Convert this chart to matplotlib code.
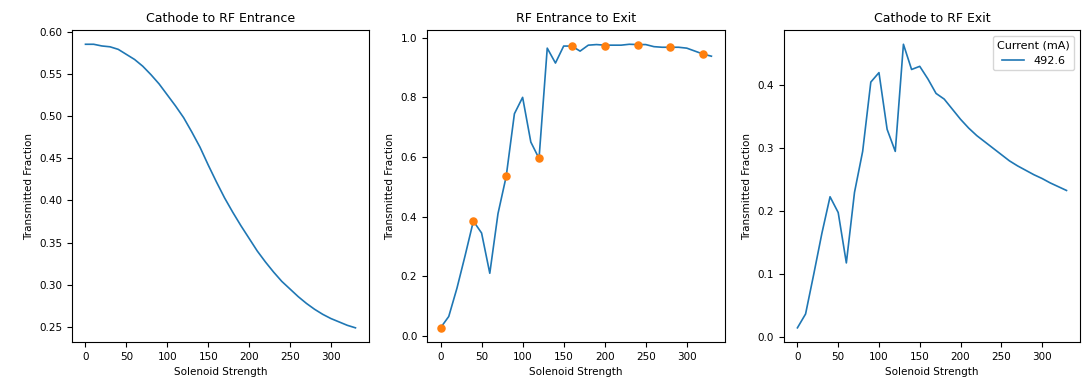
import matplotlib
matplotlib.use("Agg")
import matplotlib.pyplot as plt
import numpy as np

# solenoid scan, 0..330 in steps of 10
solenoid = list(range(0, 340, 10))

cathode_to_entrance = [
    0.585, 0.585, 0.583, 0.582, 0.579, 0.573, 0.567, 0.559, 0.549, 0.538,
    0.525, 0.512, 0.498, 0.481, 0.463, 0.442, 0.422, 0.403, 0.386, 0.370,
    0.355, 0.340, 0.327, 0.315, 0.304, 0.295, 0.286, 0.278, 0.271, 0.265,
    0.260, 0.256, 0.252, 0.249,
]

entrance_to_exit = [
    0.027, 0.065, 0.160, 0.270, 0.385, 0.345, 0.210, 0.410, 0.535, 0.745,
    0.800, 0.650, 0.595, 0.965, 0.915, 0.972, 0.972, 0.955, 0.975, 0.977,
    0.975, 0.975, 0.975, 0.978, 0.977, 0.977, 0.970, 0.968, 0.968, 0.968,
    0.965, 0.955, 0.945, 0.938,
]

cathode_to_exit = [
    0.015, 0.037, 0.100, 0.165, 0.223, 0.198, 0.118, 0.230, 0.295, 0.405,
    0.420, 0.330, 0.295, 0.465, 0.425, 0.430, 0.410, 0.387, 0.378, 0.362,
    0.346, 0.332, 0.320, 0.310, 0.300, 0.290, 0.280, 0.272, 0.265, 0.258,
    0.252, 0.245, 0.239, 0.233,
]

# measured points shown on the RF section
measured_x = [0, 40, 80, 120, 160, 200, 240, 280, 320]
measured_y = [0.027, 0.385, 0.535, 0.595, 0.972, 0.972, 0.977, 0.968, 0.945]

current = "492.6"

plt.rcParams["font.size"] = 7.5
fig = plt.figure(figsize=(10.89, 3.79), dpi=100)
ax1 = fig.add_axes([0.0661, 0.0976, 0.2727, 0.823])
ax2 = fig.add_axes([0.3921, 0.0976, 0.2736, 0.823])
ax3 = fig.add_axes([0.7199, 0.0976, 0.2718, 0.823])

ax1.plot(solenoid, cathode_to_entrance, color="C0", lw=1.2)
ax1.set_title("Cathode to RF Entrance", fontsize=9)

ax2.plot(solenoid, entrance_to_exit, color="C0", lw=1.2)
ax2.scatter(measured_x, measured_y, color="C1", s=26, zorder=3)
ax2.set_title("RF Entrance to Exit", fontsize=9)

ax3.plot(solenoid, cathode_to_exit, color="C0", lw=1.2, label=current)
ax3.set_title("Cathode to RF Exit", fontsize=9)
ax3.legend(title="Current (mA)", loc="upper right", fontsize=8, title_fontsize=8)

for ax in (ax1, ax2, ax3):
    ax.set_xlabel("Solenoid Strength")
    ax.set_ylabel("Transmitted Fraction")
    ax.set_xticks([0, 50, 100, 150, 200, 250, 300])

ax1.set_yticks(np.arange(0.25, 0.61, 0.05))

fig.savefig("out.png", dpi=100)
